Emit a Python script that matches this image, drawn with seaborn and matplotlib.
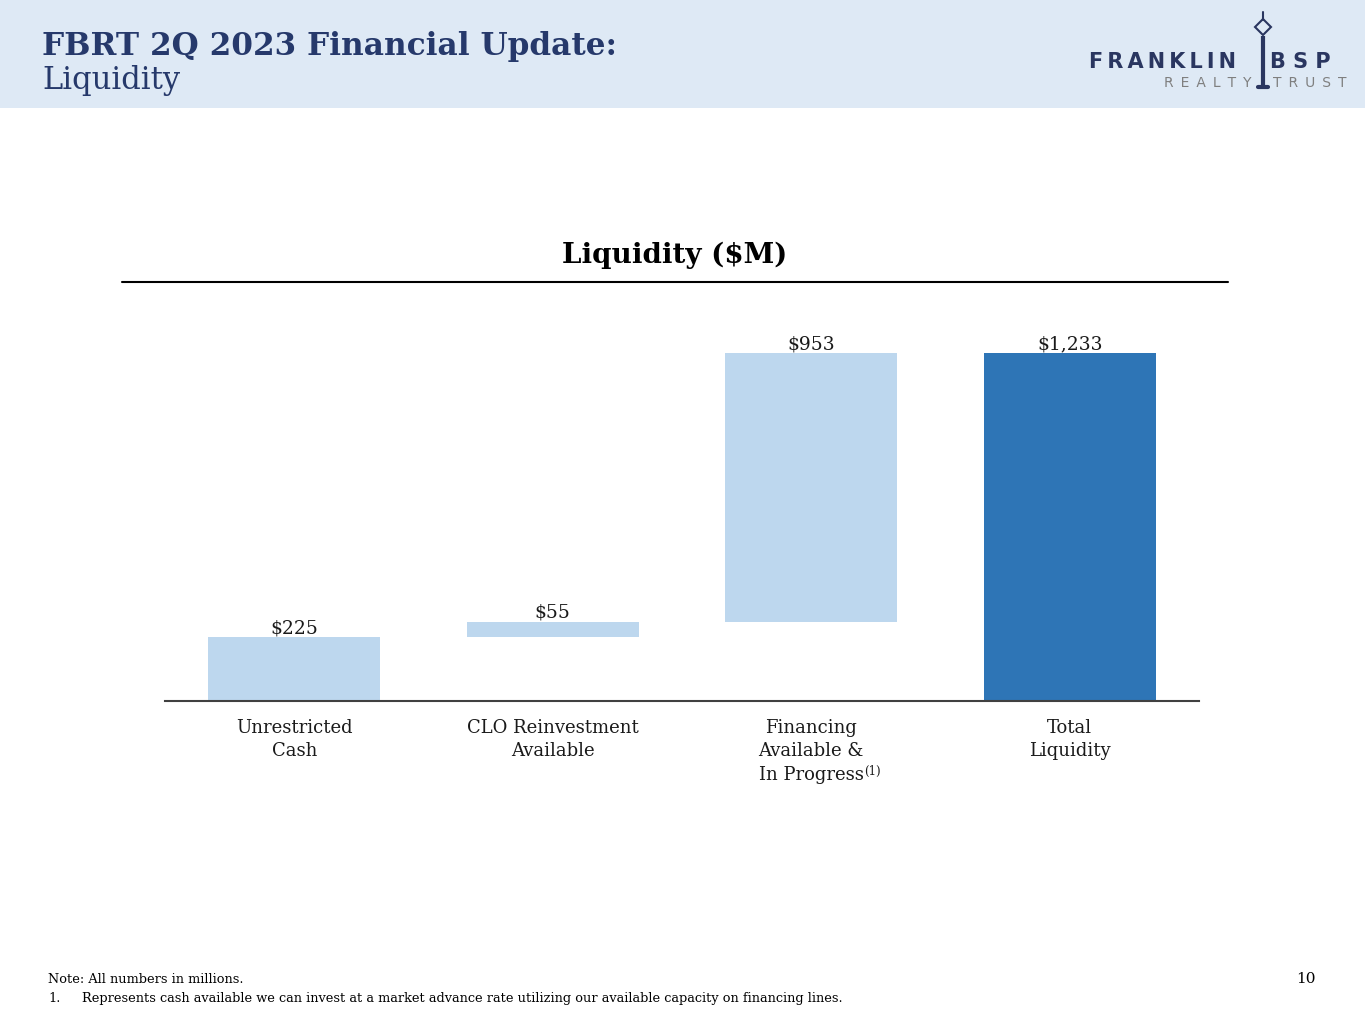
import matplotlib
matplotlib.use("Agg")
import matplotlib.pyplot as plt
from matplotlib.patches import Rectangle
from matplotlib.lines import Line2D
import seaborn as sns
import numpy as np

# ---- data ----
categories = ["Unrestricted\nCash", "CLO Reinvestment\nAvailable", "Financing\nAvailable &\nIn Progress", "Total\nLiquidity"]
values = [225, 55, 953, 1233]
value_labels = ["$225", "$55", "$953", "$1,233"]
is_total = [False, False, False, True]

# waterfall bottoms derived from the values
bottoms = []
running = 0
for v, t in zip(values, is_total):
    if t:
        bottoms.append(0)
    else:
        bottoms.append(running)
        running += v

LIGHT = "#BDD7EE"
DARK = "#2E75B6"
NAVY = "#26396B"
SERIF = ["DejaVu Serif"]

sns.set_theme(style="white")
plt.rcParams["font.family"] = SERIF

W, H = 1365, 1024
fig = plt.figure(figsize=(W / 100, H / 100), dpi=100)

def fx(px):
    return px / W

def fy(py):
    return 1 - py / H

# header band
fig.add_artist(Rectangle((0, fy(108)), 1, 108 / H, transform=fig.transFigure,
                         facecolor="#DEE9F5", edgecolor="none", zorder=0))
fig.text(fx(42), fy(55), "FBRT 2Q 2023 Financial Update:", fontsize=22.4, fontweight="bold",
         color=NAVY, va="baseline", ha="left")
fig.text(fx(42), fy(89), "Liquidity", fontsize=22, color=NAVY, va="baseline", ha="left")

# logo
LOGO = "#2A3660"
TS = "\u2009"
ES = "\u2002"
fig.text(fx(1236), fy(68), TS.join("FRANKLIN"), fontsize=15, fontweight="bold", color=LOGO,
         family=["DejaVu Sans"], ha="right", va="baseline")
fig.text(fx(1270), fy(68), " ".join("BSP"), fontsize=15, fontweight="bold", color=LOGO,
         family=["DejaVu Sans"], ha="left", va="baseline")
fig.text(fx(1251), fy(87), ES.join("REALTY"), fontsize=10, color="#7F7F7F",
         family=["DejaVu Sans"], ha="right", va="baseline")
fig.text(fx(1273), fy(87), ES.join("TRUST"), fontsize=10, color="#7F7F7F",
         family=["DejaVu Sans"], ha="left", va="baseline")
fig.add_artist(Line2D([fx(1263), fx(1263)], [fy(36), fy(86)], transform=fig.transFigure,
                      color=LOGO, lw=3, solid_capstyle="butt"))
fig.add_artist(Line2D([fx(1263)], [fy(27)], transform=fig.transFigure, marker="D",
                      markersize=8, markerfacecolor="none", markeredgecolor=LOGO, markeredgewidth=1.5))
fig.add_artist(Line2D([fx(1263), fx(1263)], [fy(12), fy(20)], transform=fig.transFigure,
                      color=LOGO, lw=1.5))
fig.add_artist(Line2D([fx(1258), fx(1268)], [fy(87), fy(87)], transform=fig.transFigure,
                      color=LOGO, lw=3))

# chart title and rule
fig.text(fx(675), fy(263), "Liquidity ($M)", fontsize=20, fontweight="bold", color="black",
         ha="center", va="baseline")
fig.add_artist(Line2D([fx(122), fx(1228)], [fy(282), fy(282)], transform=fig.transFigure,
                      color="black", lw=1.5))

# axes
ymax = 1400
px_per_unit = (701 - 353) / 1233
ax_h = ymax * px_per_unit
ax = fig.add_axes([fx(165), fy(701), fx(1199) - fx(165), ax_h / H])

sns.barplot(x=categories, y=values, bottom=bottoms, color=LIGHT, width=0.665,
            saturation=1, ax=ax, edgecolor="none", linewidth=0)
for patch, t in zip(ax.patches, is_total):
    patch.set_facecolor(DARK if t else LIGHT)

ax.bar_label(ax.containers[0], labels=value_labels, padding=0, fontsize=13.5, color="#1a1a1a")

ax.set_xlim(-0.5, 3.5)
ax.set_ylim(0, ymax)
ax.set_yticks([])
ax.set_ylabel("")
ax.set_xlabel("")
for s in ["top", "right", "left"]:
    ax.spines[s].set_visible(False)
ax.spines["bottom"].set_color("#404040")
ax.spines["bottom"].set_linewidth(1.5)
ax.tick_params(axis="x", length=0, pad=13, labelsize=13, labelcolor="#1a1a1a")
for t in ax.get_xticklabels():
    t.set_linespacing(1.38)
ax.patch.set_alpha(0)

# superscript footnote marker on third category label
fig.canvas.draw()
lbl = ax.get_xticklabels()[2]
ax.annotate("(1)", xy=(1, 0), xycoords=lbl, xytext=(0, 4), textcoords="offset points",
            fontsize=8.5, color="#1a1a1a", ha="left", va="bottom")

# footer
fig.text(fx(48), fy(983), "Note: All numbers in millions.", fontsize=9.3, color="black",
         va="baseline", ha="left")
fig.text(fx(48), fy(1002), "1.", fontsize=9.3, color="black",
         va="baseline", ha="left")
fig.text(fx(82), fy(1002),
         "Represents cash available we can invest at a market advance rate utilizing our available capacity on financing lines.",
         fontsize=9.3, color="black", va="baseline", ha="left")
fig.text(fx(1316), fy(983), "10", fontsize=11, color="black", va="baseline", ha="right")

fig.savefig("out.png", dpi=100)
